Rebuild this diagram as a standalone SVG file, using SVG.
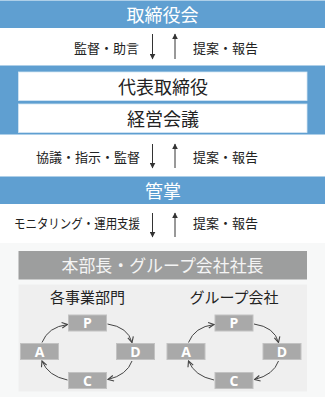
<svg xmlns="http://www.w3.org/2000/svg" width="325" height="397" viewBox="0 0 325 397">
<defs>
<marker id="ah" viewBox="0 0 10 10" refX="9" refY="5" markerWidth="6" markerHeight="6" orient="auto" markerUnits="userSpaceOnUse">
<path d="M0,0 L10,5 L0,10 Z" fill="#333"/>
</marker>
<marker id="ch" viewBox="0 0 10 10" refX="9" refY="5" markerWidth="7" markerHeight="7" orient="auto" markerUnits="userSpaceOnUse">
<path d="M1,1 L9,5 L1,9" fill="none" stroke="#444" stroke-width="1.6"/>
</marker>
</defs>
<style>
.jp{font-family:"Noto Sans CJK JP","Noto Sans",sans-serif;}
.bar{fill:#5f9fd1;}
.wt{fill:#fff;font-size:18px;text-anchor:middle;}
.bk{fill:#222;font-size:18px;text-anchor:middle;}
.lab{fill:#222;font-size:13px;}
.vl{stroke:#333;stroke-width:1;fill:none;}
.pd{fill:#a9a9a9;stroke:#c2c2c2;stroke-width:1;}
.pl{fill:#fff;font-family:"Open Sans","DejaVu Sans",sans-serif;font-weight:bold;font-size:14px;text-anchor:middle;}
.cv{stroke:#444;stroke-width:1;fill:none;}
.st{fill:#222;font-size:15px;text-anchor:middle;}
</style>
<rect x="0" y="0" width="325" height="397" fill="#fff"/>
<rect x="0" y="243" width="325" height="154" fill="#f7f8f8"/>

<g id="board">
<rect class="bar" x="0" y="0.5" width="325" height="27.5"/>
<text class="jp wt" x="162.5" y="22">取締役会</text>
</g>

<g id="exec">
<rect class="bar" x="0" y="65.5" width="325" height="69"/>
<rect x="18.5" y="72" width="288.5" height="28.5" fill="#fff" stroke="#d5e5f3" stroke-width="0.8"/>
<text class="jp bk" x="163" y="93.5">代表取締役</text>
<rect x="18.5" y="104" width="288.5" height="28.5" fill="#fff" stroke="#d5e5f3" stroke-width="0.8"/>
<text class="jp bk" x="163" y="125.5">経営会議</text>
</g>

<g id="kansho">
<rect class="bar" x="0" y="176.5" width="325" height="27.5"/>
<text class="jp wt" x="163" y="197.5">管掌</text>
</g>

<g id="heads">
<rect x="18.5" y="251" width="288.5" height="28.5" fill="#9d9e9e"/>
<text class="jp" x="162.5" y="272" fill="#f4f4f4" font-size="17.5" text-anchor="middle" textLength="202" lengthAdjust="spacingAndGlyphs">本部長・グループ会社社長</text>
</g>

<g id="panel">
<rect x="18.5" y="284.5" width="288.5" height="107" fill="#efefef"/>
</g>

<g id="labels">
<text class="jp lab" x="139" y="53" text-anchor="end">監督・助言</text>
<text class="jp lab" x="193" y="53">提案・報告</text>
<text class="jp lab" x="140" y="162" text-anchor="end">協議・指示・監督</text>
<text class="jp lab" x="193" y="162">提案・報告</text>
<text class="jp lab" x="140" y="228" text-anchor="end" textLength="126" lengthAdjust="spacingAndGlyphs">モニタリング・運用支援</text>
<text class="jp lab" x="193" y="228">提案・報告</text>
</g>

<g id="left-unit">
<text class="jp st" x="87.5" y="302.5">各事業部門</text>
<g id="L-P"><rect class="pd" x="68.5" y="315" width="38" height="16"/><text class="pl" x="87.5" y="328">P</text></g>
<g id="L-A"><rect class="pd" x="20.5" y="343.5" width="38" height="16"/><text class="pl" x="39.5" y="356.5">A</text></g>
<g id="L-D"><rect class="pd" x="116.5" y="343.5" width="38" height="16"/><text class="pl" x="135.5" y="356.5">D</text></g>
<g id="L-C"><rect class="pd" x="68.5" y="372.5" width="38" height="16"/><text class="pl" x="87.5" y="385.5">C</text></g>
</g>

<g id="right-unit">
<text class="jp st" x="234" y="302.5">グループ会社</text>
<g id="R-P"><rect class="pd" x="215" y="315" width="38" height="16"/><text class="pl" x="234" y="328">P</text></g>
<g id="R-A"><rect class="pd" x="167" y="343.5" width="38" height="16"/><text class="pl" x="186" y="356.5">A</text></g>
<g id="R-D"><rect class="pd" x="263" y="343.5" width="38" height="16"/><text class="pl" x="282" y="356.5">D</text></g>
<g id="R-C"><rect class="pd" x="215" y="372.5" width="38" height="16"/><text class="pl" x="234" y="385.5">C</text></g>
</g>

<g id="connectors">
<line class="vl" x1="152.5" y1="34" x2="152.5" y2="59" marker-end="url(#ah)"/>
<line class="vl" x1="175" y1="59" x2="175" y2="34" marker-end="url(#ah)"/>
<line class="vl" x1="152.5" y1="144" x2="152.5" y2="168" marker-end="url(#ah)"/>
<line class="vl" x1="175" y1="168" x2="175" y2="144" marker-end="url(#ah)"/>
<line class="vl" x1="152.5" y1="213" x2="152.5" y2="237" marker-end="url(#ah)"/>
<line class="vl" x1="175" y1="237" x2="175" y2="213" marker-end="url(#ah)"/>

<path class="cv" d="M42,342.5 Q48,327 67.5,324.5" marker-end="url(#ch)"/>
<path class="cv" d="M107.5,324 Q128,327 132,342.5" marker-end="url(#ch)"/>
<path class="cv" d="M132,361 Q127,375 108,379.5" marker-end="url(#ch)"/>
<path class="cv" d="M67.5,380 Q48,376 42,361" marker-end="url(#ch)"/>

<path class="cv" d="M188.5,342.5 Q194.5,327 214,324.5" marker-end="url(#ch)"/>
<path class="cv" d="M254,324 Q274.5,327 278.5,342.5" marker-end="url(#ch)"/>
<path class="cv" d="M278.5,361 Q273.5,375 254.5,379.5" marker-end="url(#ch)"/>
<path class="cv" d="M214,380 Q194.5,376 188.5,361" marker-end="url(#ch)"/>
</g>
</svg>
